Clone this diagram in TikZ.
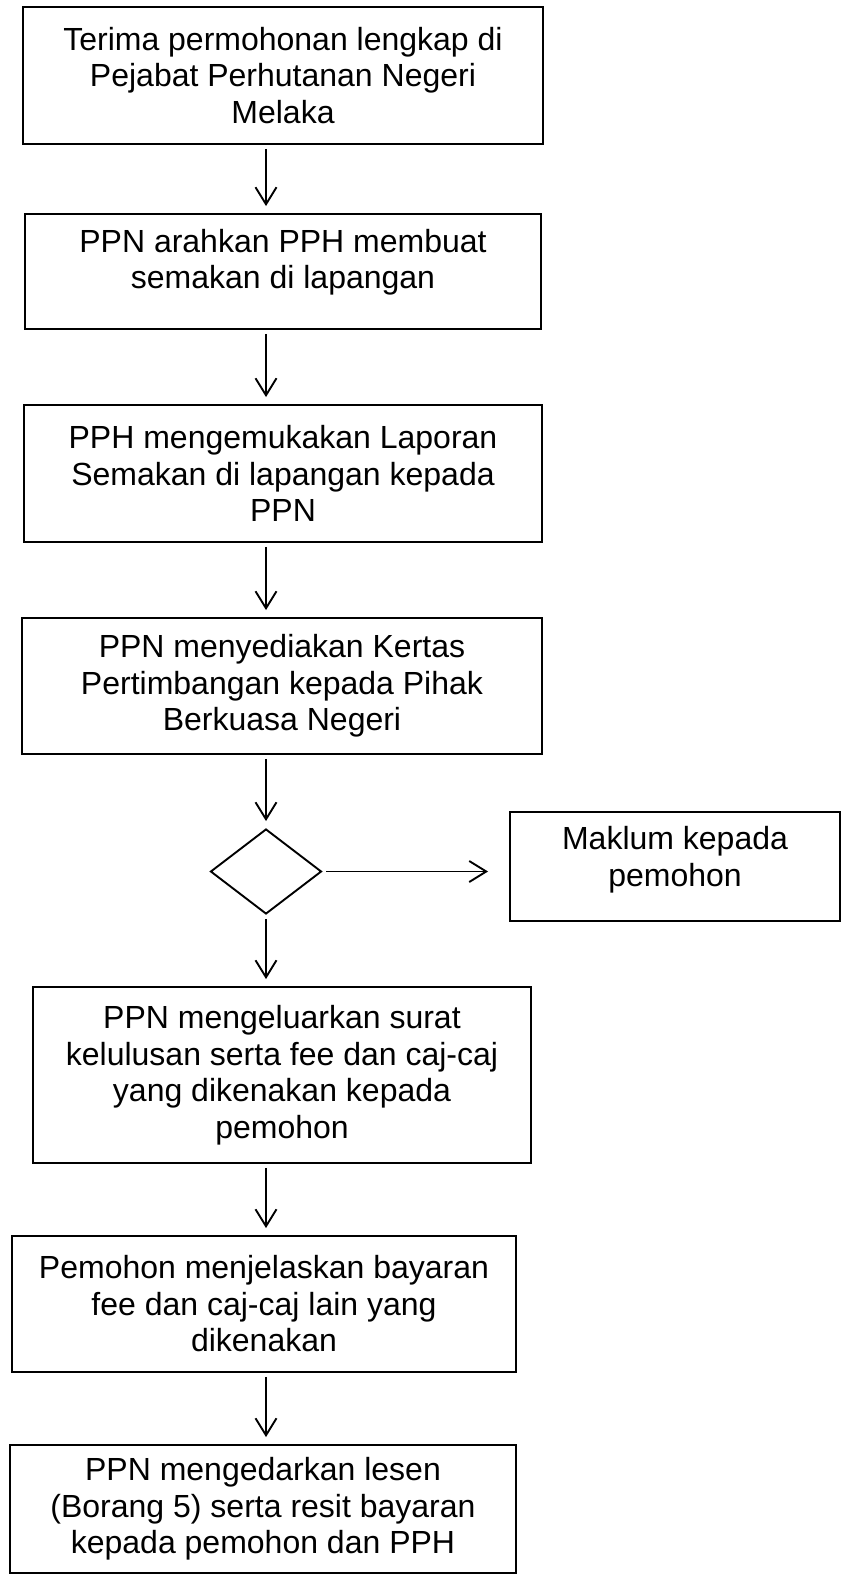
\documentclass[tikz,border=0pt]{standalone}
\usepackage{fontspec}
\setmainfont{Liberation Sans}
\usetikzlibrary{shapes.geometric,arrows.meta}
\begin{document}
\begin{tikzpicture}[x=1pt,y=-1pt,line width=1.9pt,
	box/.style={draw,rectangle,align=center,inner sep=0pt,font=\fontsize{32}{36.5}\selectfont},
	arr/.style={-{Straight Barb[length=17pt,width=21pt]},shorten <=4pt,shorten >=7pt}]
			\useasboundingbox (0,0) rectangle (842,1575);
			\coordinate (col) at (266,0);
			\node[box,minimum width=520pt,minimum height=137pt] (b1) at (283,75.5) {Terima permohonan lengkap di\\Pejabat Perhutanan Negeri\\Melaka};
			\node[box,minimum width=516pt,minimum height=115pt,text depth=25pt] (b2) at (283,271.5) {PPN arahkan PPH membuat\\semakan di lapangan};
			\node[box,minimum width=518pt,minimum height=137pt] (b3) at (283,473.5) {PPH mengemukakan Laporan\\Semakan di lapangan kepada\\PPN};
			\node[box,minimum width=520pt,minimum height=136pt] (b4) at (282,686) {PPN menyediakan Kertas\\Pertimbangan kepada Pihak\\Berkuasa Negeri};
			\node[draw,diamond,inner sep=0pt,minimum width=111pt,minimum height=85pt] (dm) at (266,871.5) {};
			\node[box,minimum width=330pt,minimum height=109pt,text depth=20pt] (mk) at (675,866.5) {Maklum kepada\\pemohon};
			\node[box,minimum width=498pt,minimum height=176pt] (b5) at (282,1075) {PPN mengeluarkan surat\\kelulusan serta fee dan caj-caj\\yang dikenakan kepada\\pemohon};
			\node[box,minimum width=504pt,minimum height=136pt] (b6) at (264,1304) {Pemohon menjelaskan bayaran\\fee dan caj-caj lain yang\\dikenakan};
			\node[box,minimum width=506pt,minimum height=128pt] (b7) at (263,1509) {PPN mengedarkan lesen\\(Borang 5) serta resit bayaran\\kepada pemohon dan PPH};
			\draw[arr] (b1.south -| col) -- (b2.north -| col);
			\draw[arr] (b2.south -| col) -- (b3.north -| col);
			\draw[arr] (b3.south -| col) -- (b4.north -| col);
			\draw[arr] (b4.south -| col) -- (dm.north);
			\draw[arr,shorten >=21pt] (dm.east) -- (mk.west |- dm.east);
			\draw[arr] (dm.south) -- (b5.north -| col);
			\draw[arr] (b5.south -| col) -- (b6.north -| col);
			\draw[arr] (b6.south -| col) -- (b7.north -| col);
		\end{tikzpicture}
\end{document}
